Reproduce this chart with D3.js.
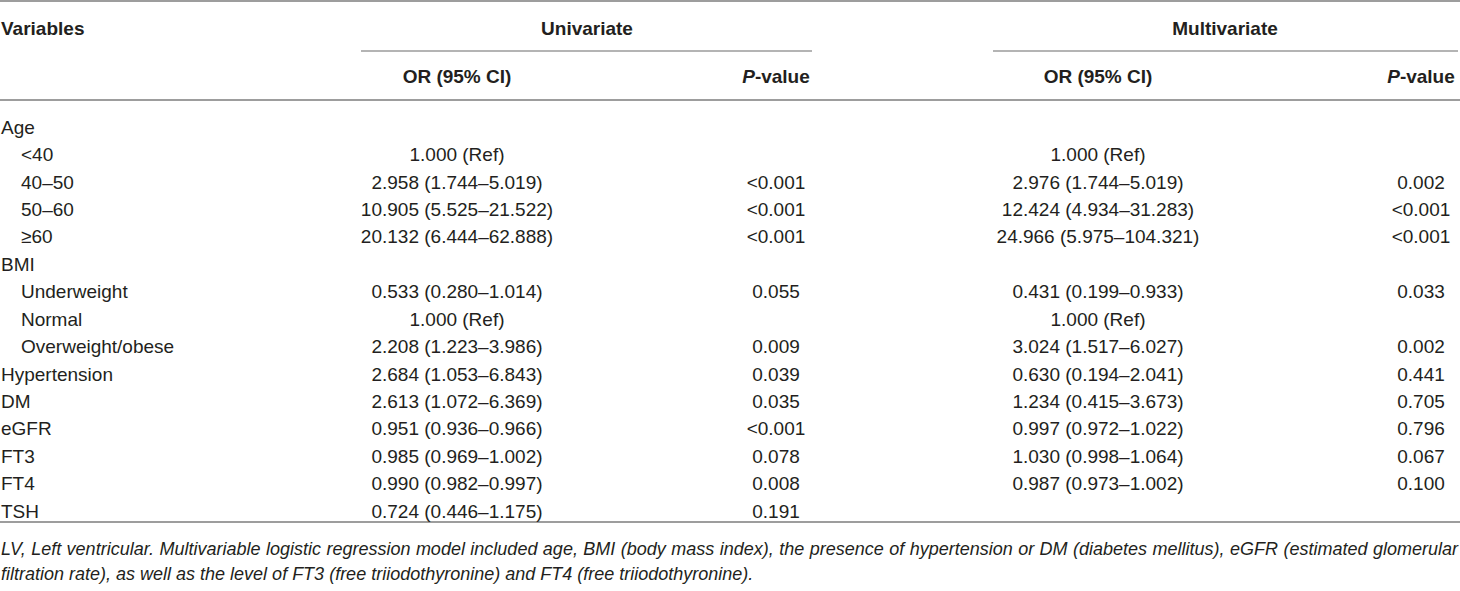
<!DOCTYPE html>
<html>
<head>
<meta charset="utf-8">
<script src="https://cdn.jsdelivr.net/npm/d3@7"></script>
<style>
  body { margin: 0; background: #fff; }
  svg text { font-family: "Liberation Sans", Arial, sans-serif; fill: #231f20; }
</style>
</head>
<body>
<div id="table"></div>
<script>
// table content
var variables = ["Age", "<40", "40–50", "50–60", "≥60", "BMI", "Underweight", "Normal", "Overweight/obese",
                 "Hypertension", "DM", "eGFR", "FT3", "FT4", "TSH"];
var indent = [0, 1, 1, 1, 1, 0, 1, 1, 1, 0, 0, 0, 0, 0, 0];
var uniOR = ["", "1.000 (Ref)", "2.958 (1.744–5.019)", "10.905 (5.525–21.522)", "20.132 (6.444–62.888)", "",
             "0.533 (0.280–1.014)", "1.000 (Ref)", "2.208 (1.223–3.986)", "2.684 (1.053–6.843)",
             "2.613 (1.072–6.369)", "0.951 (0.936–0.966)", "0.985 (0.969–1.002)", "0.990 (0.982–0.997)",
             "0.724 (0.446–1.175)"];
var uniP = ["", "", "<0.001", "<0.001", "<0.001", "", "0.055", "", "0.009", "0.039", "0.035", "<0.001",
            "0.078", "0.008", "0.191"];
var multiOR = ["", "1.000 (Ref)", "2.976 (1.744–5.019)", "12.424 (4.934–31.283)", "24.966 (5.975–104.321)", "",
               "0.431 (0.199–0.933)", "1.000 (Ref)", "3.024 (1.517–6.027)", "0.630 (0.194–2.041)",
               "1.234 (0.415–3.673)", "0.997 (0.972–1.022)", "1.030 (0.998–1.064)", "0.987 (0.973–1.002)", ""];
var multiP = ["", "", "0.002", "<0.001", "<0.001", "", "0.033", "", "0.002", "0.441", "0.705", "0.796",
              "0.067", "0.100", ""];
var groupHeaders = ["Univariate", "Multivariate"];
var footnote = ["LV, Left ventricular. Multivariable logistic regression model included age, BMI (body mass index), the presence of hypertension or DM (diabetes mellitus), eGFR (estimated glomerular",
                "filtration rate), as well as the level of FT3 (free triiodothyronine) and FT4 (free triiodothyronine)."];

var width = 1460,
    height = 591,
    fontSize = 19,
    svg = d3.select("#table")
            .append("svg")
            .attr("width", width)
            .attr("height", height);

// column centres
var colX = d3.scaleOrdinal()
    .domain(["uniOR", "uniP", "multiOR", "multiP"])
    .range([457, 776, 1098, 1421]);

var rowY = d3.scalePoint()
    .domain(d3.range(variables.length))
    .range([127, 511]);

// rules
function rule(x1, x2, y, color) {
    svg.append("line")
        .attr("x1", x1).attr("x2", x2)
        .attr("y1", y).attr("y2", y)
        .attr("stroke", color)
        .attr("stroke-width", 2);
}
rule(0, width, 1, "#9d9d9d");
rule(361, 812, 51, "#b4b4b4");
rule(993, 1458, 51, "#b4b4b4");
rule(0, width, 100, "#9d9d9d");
rule(0, width, 522, "#9d9d9d");

// header
svg.append("text")
    .attr("x", 1).attr("y", 28)
    .attr("dy", "0.35em")
    .attr("font-size", fontSize)
    .attr("font-weight", "bold")
    .text("Variables");

svg.selectAll("text.group").data(groupHeaders).enter()
    .append("text")
    .attr("class", "group")
    .attr("x", function(d, i) { return i == 0 ? 587 : 1225; })
    .attr("y", 28)
    .attr("dy", "0.35em")
    .attr("text-anchor", "middle")
    .attr("font-size", fontSize)
    .attr("font-weight", "bold")
    .text(function(d) { return d; });

colX.domain().forEach(function(c) {
    var t = svg.append("text")
        .attr("x", colX(c)).attr("y", 76)
        .attr("dy", "0.35em")
        .attr("text-anchor", "middle")
        .attr("font-size", fontSize)
        .attr("font-weight", "bold");
    if (c.slice(-1) == "P") {
        t.append("tspan").attr("font-style", "italic").text("P");
        t.append("tspan").text("-value");
    } else {
        t.text("OR (95% CI)");
    }
});

// body rows
svg.selectAll("text.var").data(variables).enter()
    .append("text")
    .attr("class", "var")
    .attr("x", function(d, i) { return indent[i] ? 21 : 1; })
    .attr("y", function(d, i) { return rowY(i); })
    .attr("dy", "0.35em")
    .attr("font-size", fontSize)
    .text(function(d) { return d; });

var columns = {uniOR: uniOR, uniP: uniP, multiOR: multiOR, multiP: multiP};
Object.keys(columns).forEach(function(c) {
    svg.selectAll("text." + c).data(columns[c]).enter()
        .append("text")
        .attr("class", c)
        .attr("x", colX(c))
        .attr("y", function(d, i) { return rowY(i); })
        .attr("dy", "0.35em")
        .attr("text-anchor", "middle")
        .attr("font-size", fontSize)
        .text(function(d) { return d; });
});

// footnote, first line justified to the full width
svg.selectAll("text.note").data(footnote).enter()
    .append("text")
    .attr("class", "note")
    .attr("x", 1)
    .attr("y", function(d, i) { return 549 + i * 25; })
    .attr("dy", "0.35em")
    .attr("font-size", 18)
    .attr("font-style", "italic")
    .text(function(d) { return d; })
    .each(function(d, i) {
        if (i == 0) {
            var w = this.getComputedTextLength(),
                gaps = d.split(" ").length - 1;
            d3.select(this).attr("word-spacing", (1457 - w) / gaps);
        }
    });
</script>
</body>
</html>
